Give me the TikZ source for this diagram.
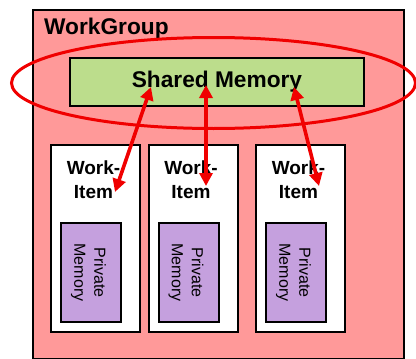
\documentclass[tikz,border=0pt]{standalone}
\usepackage{fontspec}
\setmainfont{Liberation Sans}
\usetikzlibrary{arrows.meta,shapes.geometric}

\definecolor{groupfill}{RGB}{255,153,153}
\definecolor{sharedfill}{RGB}{188,221,140}
\definecolor{privfill}{RGB}{197,160,222}
\definecolor{linkred}{RGB}{240,0,0}

\tikzset{
  box/.style={draw=black, line width=2pt, rectangle, inner sep=0pt},
  itembox/.style={box, fill=white, minimum width=89pt, minimum height=187pt},
  privbox/.style={box, fill=privfill, minimum width=60pt, minimum height=99pt},
  titlefont/.style={font=\fontsize{22.7}{26}\selectfont\bfseries, inner sep=0pt},
  itemlabel/.style={font=\fontsize{19}{24}\selectfont\bfseries, align=center, inner sep=0pt},
  privlabel/.style={font=\fontsize{16}{20}\selectfont, align=center, rotate=-90, inner sep=0pt},
  link/.style={draw=linkred, line width=3.6pt,
    {Triangle[length=13pt,width=13pt]}-{Triangle[length=13pt,width=13pt]}},
}

\begin{document}
\begin{tikzpicture}[x=1pt, y=-1pt]
\useasboundingbox (0,0) rectangle (416,359);

% work-group frame
\node[box, fill=groupfill, minimum width=371pt, minimum height=349pt,
      anchor=north west] (wg) at (32,9) {};
\node[titlefont, anchor=west] (wgname) at (44,29) {WorkGroup};

% shared memory bar
\node[box, fill=sharedfill, minimum width=294pt, minimum height=48pt] (shm) at (217,82) {};
\node[titlefont] (shmname) at (217,82) {Shared Memory};

% ring around the shared memory
\node[draw=linkred, line width=3pt, ellipse, minimum width=404pt, minimum height=91pt,
      inner sep=0pt] (ring) at (213.5,83) {};

% work items with their private memories
\foreach \i/\x in {1/95.5, 2/193, 3/300.5} {
  \node[itembox] (wi\i) at (\x,238.5) {};
  \node[itemlabel] (wil\i) at (\x-2,180) {Work-\\Item};
  \node[privbox] (pm\i) at (\x-4.5,272.5) {};
  \node[privlabel] (pml\i) at (\x-7,272.5) {Private\\Memory};
}

% links between shared memory and each work item
\coordinate (s1) at (151,87);
\coordinate (s2) at (206,85);
\coordinate (s3) at (294,87);
\coordinate (w1) at (115,192);
\coordinate (w2) at (206,186);
\coordinate (w3) at (319,186);
\draw[link] (s1) -- (w1);
\draw[link] (s2) -- (w2);
\draw[link] (s3) -- (w3);
\end{tikzpicture}
\end{document}
